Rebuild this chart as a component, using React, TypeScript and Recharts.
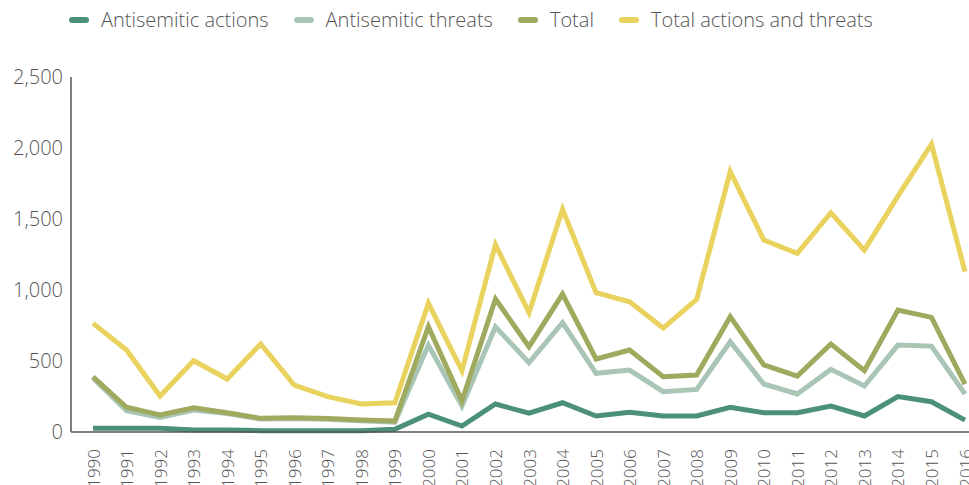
import { LineChart, Line, XAxis, YAxis, Legend } from 'recharts';

const years = [
  '1990', '1991', '1992', '1993', '1994', '1995', '1996', '1997', '1998', '1999',
  '2000', '2001', '2002', '2003', '2004', '2005', '2006', '2007', '2008', '2009',
  '2010', '2011', '2012', '2013', '2014', '2015', '2016',
];

const actions = [26, 26, 26, 14, 14, 9, 9, 9, 9, 19, 125, 42, 197, 132, 206, 113, 139, 113, 113, 174, 136, 136, 183, 113, 249, 213, 84];
const threats = [380, 150, 103, 155, 130, 92, 95, 90, 80, 70, 612, 183, 741, 488, 770, 413, 436, 284, 300, 636, 338, 268, 441, 324, 612, 605, 268];
const total = [389, 174, 120, 171, 136, 96, 100, 95, 84, 77, 741, 220, 936, 601, 971, 514, 577, 389, 401, 812, 472, 394, 620, 432, 859, 807, 338];
const totalAll = [765, 577, 253, 502, 373, 620, 331, 249, 197, 206, 906, 432, 1320, 840, 1568, 981, 917, 732, 934, 1833, 1352, 1258, 1544, 1281, 1661, 2028, 1129];

const yTicks = [0, 500, 1000, 1500, 2000, 2500];

const series = [
  { key: 'actions', name: 'Antisemitic actions', color: '#4b9079' },
  { key: 'threats', name: 'Antisemitic threats', color: '#a9c5b6' },
  { key: 'total', name: 'Total', color: '#9faa5f' },
  { key: 'totalAll', name: 'Total actions and threats', color: '#e9d25d' },
];

const data = years.map((year, i) => ({
  year,
  actions: actions[i],
  threats: threats[i],
  total: total[i],
  totalAll: totalAll[i],
}));

const FONT = '"Open Sans", sans-serif';

const YearTick = (props: any) => {
  const { x, y, payload } = props;
  const ty = y + 9;
  return (
    <text
      x={x}
      y={ty}
      transform={`rotate(-90, ${x}, ${ty})`}
      textAnchor="end"
      dominantBaseline="central"
      fontSize={17}
      fontFamily={FONT}
      fontWeight={300}
      fill="#555"
    >
      {payload.value}
    </text>
  );
};

const LegendContent = () => (
  <div style={{ display: 'flex', alignItems: 'center', fontFamily: FONT, fontSize: 20, fontWeight: 300, color: '#555', whiteSpace: 'nowrap' }}>
    {series.map((s) => (
      <div key={s.key} style={{ display: 'flex', alignItems: 'center', marginRight: 25 }}>
        <span style={{ display: 'inline-block', width: 20, height: 6, borderRadius: 3, background: s.color, marginRight: 12 }} />
        <span>{s.name}</span>
      </div>
    ))}
  </div>
);

export default function App() {
  return (
    <div style={{ position: 'fixed', left: 0, top: 0, width: 969, height: 485, overflow: 'hidden', background: '#fff' }}>
      <LineChart width={990} height={485} data={data} margin={{ top: 77, right: 5, bottom: 0, left: 0 }}>
        <XAxis
          dataKey="year"
          height={53}
          interval={0}
          padding={{ left: 22, right: 20 }}
          tickLine={false}
          tick={<YearTick />}
          axisLine={{ stroke: '#555', strokeWidth: 1.5 }}
        />
        <YAxis
          width={71}
          domain={[0, 2500]}
          ticks={yTicks}
          tickLine={false}
          tickSize={0}
          tickMargin={8}
          tickFormatter={(v) => v.toLocaleString('en-US')}
          tick={{ fontSize: 20, fontFamily: FONT, fontWeight: 300, fill: '#555' }}
          axisLine={{ stroke: '#555', strokeWidth: 1.5 }}
        />
        <Legend
          layout="horizontal"
          verticalAlign="middle"
          align="center"
          content={<LegendContent />}
          wrapperStyle={{ top: 6, left: 69, width: 900 }}
        />
        {series.map((s) => (
          <Line
            key={s.key}
            type="linear"
            dataKey={s.key}
            name={s.name}
            stroke={s.color}
            strokeWidth={5}
            dot={false}
            isAnimationActive={false}
          />
        ))}
      </LineChart>
    </div>
  );
}
